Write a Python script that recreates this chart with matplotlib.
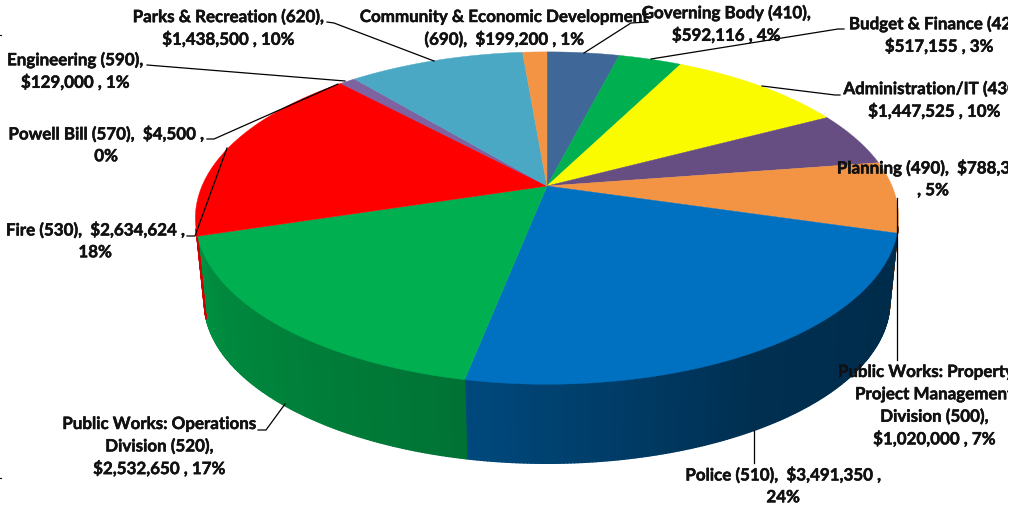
import numpy as np
import matplotlib
matplotlib.use('Agg')
import matplotlib.pyplot as plt
import matplotlib.patheffects as pe
from matplotlib.collections import PolyCollection

# Department budgets, clockwise from twelve o'clock
departments = ['Governing Body', 'Budget & Finance', 'Administration/IT', 'Planning',
               'PW Property', 'Police', 'PW Operations', 'Fire', 'Powell Bill',
               'Engineering', 'Parks & Recreation', 'Community & Economic Development']
budgets = [592116, 517155, 1447525, 788300, 1020000, 3491350,
           2532650, 2634624, 4500, 129000, 1438500, 199200]
colors = ['#3F6797', '#00B050', '#FBFB00', '#664E82', '#F39444', '#0070C0',
          '#00B050', '#FF0000', '#FF0000', '#7F63A1', '#4BA8C4', '#F39444']

label_lines = [
    ['Parks & Recreation (620),', '$1,438,500 , 10%'],
    ['Community & Economic Development', '(690),  $199,200 , 1%'],
    ['Governing Body (410),', '$592,116 , 4%'],
    ['Budget & Finance (420),', '$517,155 , 3%'],
    ['Administration/IT (430),', '$1,447,525 , 10%'],
    ['Planning (490),  $788,300', ', 5%'],
    ['Public Works: Property &', 'Project Management', 'Division (500),', '$1,020,000 , 7%'],
    ['Police (510),  $3,491,350 ,', '24%'],
    ['Public Works: Operations', 'Division (520),', '$2,532,650 , 17%'],
    ['Fire (530),  $2,634,624 ,', '18%'],
    ['Powell Bill (570),  $4,500 ,', '0%'],
    ['Engineering (590),', '$129,000 , 1%'],
]
label_x = [228, 504, 726, 939, 934, 933, 934, 783, 159, 95, 106, 75]
label_y = [17, 17, 13, 24, 89, 168, 372, 475, 424, 230, 134, 60]

leaders = [
    [(327, 22), (334, 23), (434, 61)],
    [(648, 22), (631, 23), (584, 53)],
    [(844, 29), (838, 29), (651, 59)],
    [(840, 95), (835, 95), (762, 86)],
    [(147, 65), (345, 81)],
    [(207, 139), (214, 139), (338, 84)],
    [(187, 236), (195, 236), (227, 148)],
    [(258, 430), (266, 430), (285, 404)],
    [(754, 430), (754, 463)],
    [(897, 198), (897, 360)],
]


def project(theta, radius=1.0, drop=0.0, scale=1.0):
    """Maps polar positions on the disc to pixels with a perspective divide.

    Params:
        theta (array): clockwise angle from twelve o'clock, in radians
        radius (array): distance from the centre, 0 to 1
        drop: how far the disc is moved down, in pixels
        scale: size of the disc compared to the top face

    Return:
        x, y (tuple[array]): pixel positions
    """
    px = radius * np.sin(theta)
    py = radius * np.cos(theta)
    w = 1 + 0.193 * py
    return 547 + scale * 345 * px / w, 186 + drop - scale * 160 * py / w


def wall_shade(deg):
    """Returns the brightness factor of the outer wall at an angle in degrees."""
    return np.interp(deg, [100, 150, 191, 270], [0.38, 0.42, 0.65, 0.87])


def draw_walls(ax, edges):
    """Draws the side of the pie as thin shaded strips, one slice at a time."""
    for i in range(len(budgets)):
        start = max(edges[i], 104)
        stop = min(edges[i + 1], 255)
        if stop <= start:
            continue
        steps = np.arange(start, stop + 0.5, 0.5)
        quads = []
        shades = []
        base = np.array(matplotlib.colors.to_rgb(colors[i]))
        for a, b in zip(steps[:-1], steps[1:]):
            t = np.radians([a, b])
            xt, yt = project(t)
            xb, yb = project(t, drop=84, scale=0.975)
            quads.append([(xt[0], yt[0]), (xt[1], yt[1]), (xb[1], yb[1]), (xb[0], yb[0])])
            shades.append(base * wall_shade((a + b) / 2))
        ax.add_collection(PolyCollection(quads, facecolors=shades, edgecolors=shades,
                                         linewidths=1.0, zorder=2))


def draw_top(ax, edges):
    """Draws the top face of the pie as filled sectors."""
    for i in range(len(budgets)):
        t = np.radians(np.linspace(edges[i], edges[i + 1], 200))
        x, y = project(t)
        cx, cy = project(np.array([0.0]), radius=0.0)
        ax.fill(np.r_[cx, x], np.r_[cy, y], color=colors[i], lw=0.3, zorder=3)


fig = plt.figure(figsize=(10.21, 5.07), dpi=100)
ax = fig.add_axes([0, 0, 1008 / 1021, 1])
ax.set_xlim(0, 1008)
ax.set_ylim(507, 0)
ax.axis('off')

angle_edges = np.r_[0, np.cumsum(budgets)] / np.sum(budgets) * 360
draw_walls(ax, angle_edges)
draw_top(ax, angle_edges)

for points in leaders:
    xs, ys = zip(*points)
    ax.plot(xs, ys, color='black', lw=0.9, zorder=4)

thicker = [pe.withStroke(linewidth=0.35, foreground='#111111')]
for lines, x, y in zip(label_lines, label_x, label_y):
    for n, line in enumerate(lines):
        ax.text(x, y + n * 22.3, line, ha='center', va='center', family='Lato',
                weight='bold', fontsize=12.2, color='#111111', zorder=5, clip_on=True,
                path_effects=thicker)

# small crop marks on the left edge
ax.plot([0, 1], [35, 35], color='black', lw=0.8)
ax.plot([0, 1], [478, 478], color='black', lw=0.8)

fig.savefig('out.png', dpi=100)
